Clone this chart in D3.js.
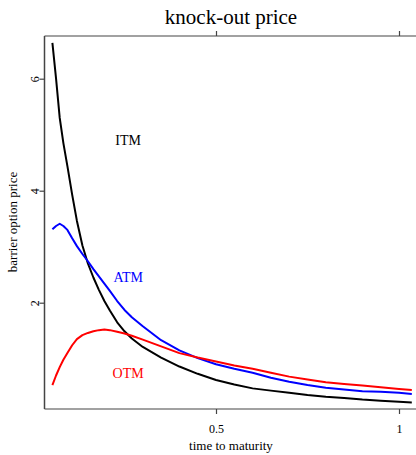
<!DOCTYPE html>
<html>
<head>
<meta charset="utf-8">
<script src="https://cdn.jsdelivr.net/npm/d3@7"></script>
<style>
  html, body { margin: 0; padding: 0; background: #fff; }
  svg { display: block; }
  text { font-family: "Liberation Serif", "Times New Roman", serif; }
</style>
</head>
<body>
<script>
// ---- data ----
const maturity = [0.053, 0.063, 0.073, 0.083, 0.094, 0.107, 0.12, 0.135, 0.15, 0.165, 0.18, 0.195, 0.21, 0.23, 0.25, 0.27, 0.30, 0.35, 0.40, 0.45, 0.50, 0.55, 0.60, 0.65, 0.70, 0.75, 0.80, 0.85, 0.90, 0.95, 1.00, 1.035];
const itm = [6.64, 6.00, 5.30, 4.85, 4.44, 3.93, 3.46, 3.02, 2.70, 2.45, 2.23, 2.03, 1.86, 1.65, 1.49, 1.36, 1.21, 1.02, 0.86, 0.73, 0.62, 0.54, 0.47, 0.43, 0.39, 0.35, 0.32, 0.30, 0.27, 0.25, 0.23, 0.22];
const atm = [3.31, 3.37, 3.41, 3.37, 3.30, 3.15, 3.01, 2.87, 2.74, 2.60, 2.47, 2.34, 2.21, 2.03, 1.87, 1.74, 1.58, 1.33, 1.15, 1.01, 0.90, 0.82, 0.75, 0.66, 0.59, 0.53, 0.48, 0.45, 0.42, 0.41, 0.39, 0.37];
const otm = [0.53, 0.70, 0.85, 0.98, 1.10, 1.24, 1.35, 1.42, 1.46, 1.49, 1.51, 1.52, 1.51, 1.48, 1.45, 1.41, 1.34, 1.22, 1.10, 1.02, 0.95, 0.88, 0.82, 0.75, 0.68, 0.63, 0.58, 0.55, 0.52, 0.49, 0.46, 0.44];
const seriesNames = ["ITM", "ATM", "OTM"];
const seriesColors = ["#000000", "#0000ff", "#ff0000"];
const labelPos = [[0.26, 4.9], [0.26, 2.46], [0.26, 0.74]];
const xTicks = [0.5, 1];
const xTickLabels = ["0.5", "1"];
const yTicks = [2, 4, 6];
const titleText = "knock-out price";
const xLabel = "time to maturity";
const yLabel = "barrier option price";

// ---- layout ----
const W = 416, H = 455;
const plotL = 44.5, plotR = 416, plotT = 36, plotB = 409;
const serif = "'Liberation Serif', 'Times New Roman', serif";

const x = d3.scaleLinear().domain([0, 1]).range([33, 399]);
const y = d3.scaleLinear().domain([2, 6]).range([302.7, 78.7]);

const svg = d3.select("body").append("svg").attr("width", W).attr("height", H);

const axisColor = "#444";

// frame lines (left, top, bottom)
svg.append("line").attr("x1", plotL).attr("x2", plotL).attr("y1", plotT).attr("y2", plotB)
  .attr("stroke", axisColor).attr("stroke-width", 1.5);
svg.append("line").attr("x1", plotL).attr("x2", plotR).attr("y1", plotT).attr("y2", plotT)
  .attr("stroke", axisColor).attr("stroke-width", 1.2);
svg.append("line").attr("x1", plotL).attr("x2", plotR).attr("y1", plotB).attr("y2", plotB)
  .attr("stroke", axisColor).attr("stroke-width", 1.2);

// bottom axis
const gx = svg.append("g").attr("transform", `translate(0,${plotB})`)
  .call(d3.axisBottom(x).tickValues(xTicks).tickSize(5).tickPadding(10)
    .tickFormat((d, i) => xTickLabels[i]));
gx.attr("font-family", serif);
gx.select(".domain").remove();
gx.selectAll(".tick line").attr("stroke", axisColor).attr("stroke-width", 1.2);
gx.selectAll(".tick text").attr("font-family", serif)
  .attr("font-size", 12).attr("fill", "#000");

// top axis (ticks only)
const gt = svg.append("g").attr("transform", `translate(0,${plotT})`)
  .call(d3.axisTop(x).tickValues(xTicks).tickSize(5).tickFormat(""));
gt.select(".domain").remove();
gt.selectAll(".tick line").attr("stroke", axisColor).attr("stroke-width", 1.2);

// left axis
const gy = svg.append("g").attr("transform", `translate(${plotL},0)`)
  .call(d3.axisLeft(y).tickValues(yTicks).tickSize(5).tickFormat(d3.format("d")));
gy.attr("font-family", serif);
gy.select(".domain").remove();
gy.selectAll(".tick line").attr("stroke", axisColor).attr("stroke-width", 1.2);
gy.selectAll(".tick text")
  .attr("font-family", serif).attr("font-size", 12).attr("fill", "#000")
  .attr("x", null).attr("dy", null)
  .attr("text-anchor", "middle")
  .attr("transform", "translate(-5.5,0) rotate(-90)");

// lines
const series = [itm, atm, otm];
const line = d3.line().x(d => x(d[0])).y(d => y(d[1]));
series.forEach((vals, i) => {
  svg.append("path")
    .datum(maturity.map((t, j) => [t, vals[j]]))
    .attr("fill", "none")
    .attr("stroke", seriesColors[i])
    .attr("stroke-width", 2)
    .attr("stroke-linejoin", "round")
    .attr("d", line);
});

// in-plot labels
seriesNames.forEach((name, i) => {
  svg.append("text")
    .attr("x", x(labelPos[i][0]))
    .attr("y", y(labelPos[i][1]))
    .attr("dy", "0.35em")
    .attr("text-anchor", "middle")
    .attr("font-family", serif)
    .attr("font-size", 14)
    .attr("fill", seriesColors[i])
    .text(name);
});

// title and axis labels
svg.append("text").attr("x", 231).attr("y", 24).attr("text-anchor", "middle")
  .attr("font-family", serif).attr("font-size", 21).attr("fill", "#000").text(titleText);
svg.append("text").attr("x", 231).attr("y", 450).attr("text-anchor", "middle")
  .attr("font-family", serif).attr("font-size", 13).attr("fill", "#000").text(xLabel);
svg.append("text").attr("transform", "translate(17,222) rotate(-90)").attr("text-anchor", "middle")
  .attr("font-family", serif).attr("font-size", 13).attr("fill", "#000").text(yLabel);
</script>
</body>
</html>
